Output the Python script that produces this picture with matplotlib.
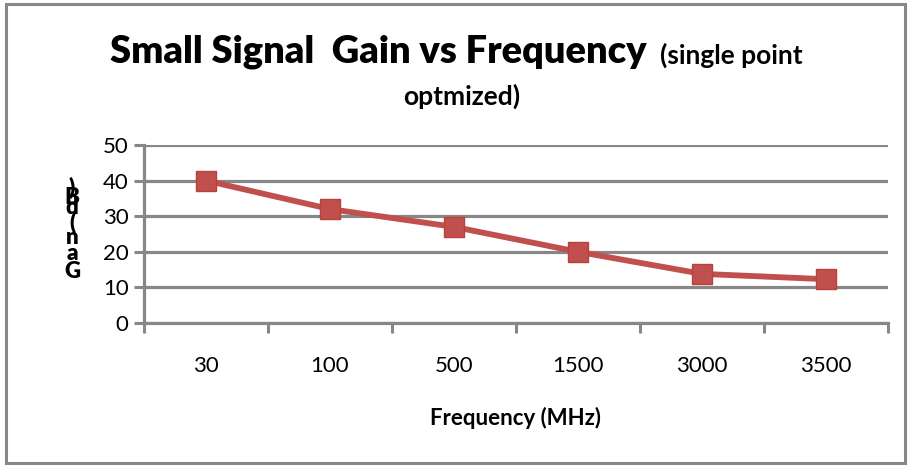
import matplotlib
matplotlib.use("Agg")
import matplotlib.pyplot as plt
from matplotlib.patches import Rectangle

# data
freqs = ["30", "100", "500", "1500", "3000", "3500"]
gain_db = [40, 32, 27, 20, 13.8, 12.3]
y_ticks = [0, 10, 20, 30, 40, 50]

# the y label is drawn as a squashed stack of letters in the original
ylabel_chars = ["G", "a", "n", "(", "d", "B", ")"]
ylabel_px = [272, 253, 238, 222, 208, 198, 187]

GRID = "#878787"
RED = "#C0504D"
FONT = ["Lato", "DejaVu Sans"]

plt.rcParams["font.family"] = FONT

W, H = 908, 466
fig = plt.figure(figsize=(W / 100, H / 100), dpi=100)
fig.patches.append(Rectangle((6 / W, 3 / H), (W - 9) / W, (H - 7) / H,
                             transform=fig.transFigure, fill=False,
                             edgecolor=GRID, linewidth=2.2))

ax = fig.add_axes([144 / W, (H - 323) / H, 744 / W, 178 / H])

x = list(range(len(freqs)))
ax.plot(x, gain_db, color=RED, linewidth=4.2, marker="s", markersize=15,
        markerfacecolor=RED, markeredgecolor="#B8403D", markeredgewidth=1,
        zorder=3)

ax.set_xlim(-0.5, len(freqs) - 0.5)
ax.set_ylim(0, 50)
ax.set_yticks(y_ticks)
ax.yaxis.grid(True, color=GRID, linewidth=2.3)
ax.set_axisbelow(True)

# category labels in the middle, tick marks on the boundaries
ax.set_xticks(x)
ax.set_xticklabels(freqs, fontsize=16)
ax.tick_params(axis="x", which="major", length=0, pad=24)
ax.set_xticks([i - 0.5 for i in range(len(freqs) + 1)], minor=True)
ax.tick_params(axis="x", which="minor", length=7, width=2.2, color=GRID)
ax.tick_params(axis="y", length=7, width=2.2, color=GRID, labelsize=16, pad=4)

for side in ["top", "right"]:
    ax.spines[side].set_visible(False)
for side in ["left", "bottom"]:
    ax.spines[side].set_color(GRID)
    ax.spines[side].set_linewidth(2.3)

ax.set_xlabel("Frequency (MHz)", fontsize=16, fontweight="bold", labelpad=22)

for ch, py in zip(ylabel_chars, ylabel_px):
    fig.text(72 / W, 1 - py / H, ch, fontsize=16, fontweight="heavy",
             ha="center", va="center")

fig.text(110 / W, 1 - 52 / H, "Small Signal  Gain vs Frequency",
         fontsize=27.4, fontweight="heavy", ha="left", va="center")
fig.text(660 / W, 1 - 55 / H, "(single point", fontsize=19,
         fontweight="bold", ha="left", va="center")
fig.text(462 / W, 1 - 96 / H, "optmized)", fontsize=19,
         fontweight="bold", ha="center", va="center")

fig.savefig("out.png", dpi=100)
